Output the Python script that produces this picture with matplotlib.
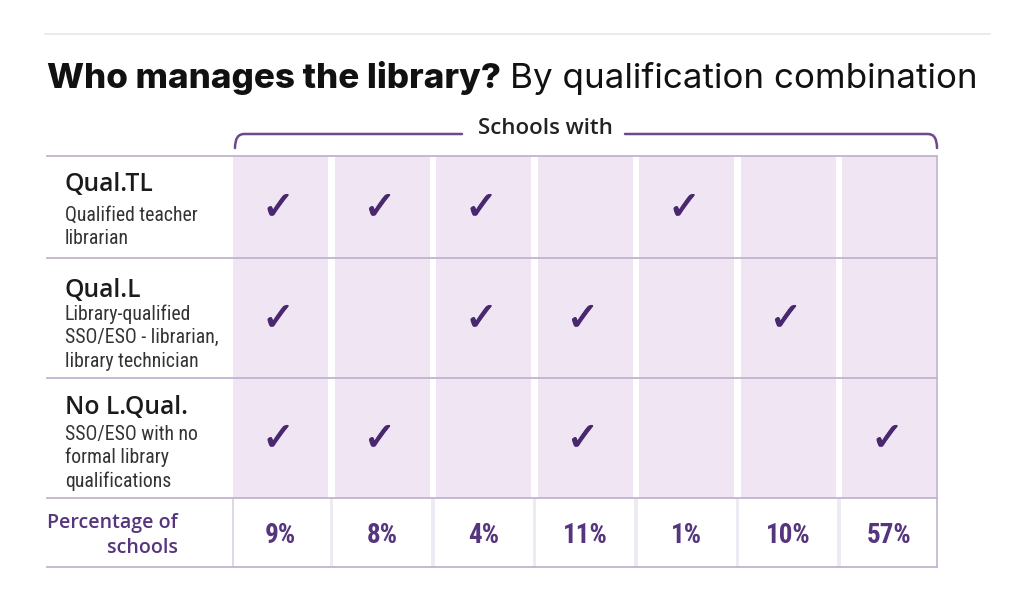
import matplotlib
matplotlib.use("Agg")
import matplotlib.pyplot as plt
import matplotlib.font_manager as fm
import matplotlib.patheffects as pe
from matplotlib.patches import Rectangle, PathPatch
from matplotlib.path import Path

# ---------------- data ----------------
title_bold = "Who manages the library?"
title_rest = "By qualification combination"
header = "Schools with"
row_codes = ["Qual.TL", "Qual.L", "No L.Qual."]
row_descriptions = [
    "Qualified teacher\nlibrarian",
    "Library-qualified\nSSO/ESO - librarian,\nlibrary technician",
    "SSO/ESO with no\nformal library\nqualifications",
]
qual_tl = [1, 1, 1, 0, 1, 0, 0]
qual_l = [1, 0, 1, 1, 0, 1, 0]
no_lqual = [1, 1, 0, 1, 0, 0, 1]
footer_label = ["Percentage of", "schools"]
percentages = [9, 8, 4, 11, 1, 10, 57]

# ---------------- fonts ----------------
names = {f.name for f in fm.fontManager.ttflist}
def pick(*cands):
    for c in cands:
        if c in names:
            return c
    return "DejaVu Sans"

TITLE_FONT = pick("Inter", "Roboto", "Liberation Sans")
TABLE_FONT = pick("Open Sans", "Noto Sans", "Lato")
COND_FONT = pick("Roboto Condensed", "Open Sans Condensed", "Liberation Sans Narrow",
                 "Lato", "Open Sans")

# ---------------- layout ----------------
W, H = 1024, 597
fig = plt.figure(figsize=(W / 100, H / 100), dpi=100)
ax = fig.add_axes([0, 0, 1, 1])
ax.set_xlim(0, W)
ax.set_ylim(H, 0)
ax.axis("off")

PURPLE_DARK = "#4a2870"
PURPLE_TEXT = "#55357d"
CELL = "#f0e6f3"
LINE = "#c2b4d0"

label_left = 47
grid_left, grid_right = 233, 937
gap = 6.5
ncol = len(percentages)
pitch = (grid_right - grid_left + gap) / ncol
cell_w = pitch - gap
row_edges = [156, 258, 378, 498, 567]

# top rule
ax.plot([45, 990], [34, 34], color="#e8e8e8", lw=1.2)

# title
t1 = ax.text(47, 88, title_bold, fontsize=25.2, fontweight="heavy", family=TITLE_FONT,
             va="baseline", ha="left", color="#111111")
fig.canvas.draw()
bb = t1.get_window_extent()
ax.text(bb.x1 + 9, 88, title_rest, fontsize=25.2, family=TITLE_FONT,
        va="baseline", ha="left", color="#111111")

# header bracket
hx = 545
ax.text(hx, 134.5, header, fontsize=16, fontweight="semibold", family=TABLE_FONT,
        ha="center", va="baseline", color="#222222")
r = 9
left_path = Path([(grid_left + 2, 148), (grid_left + 2, 134), (grid_left + 2 + r, 134), (462, 134)],
                 [Path.MOVETO, Path.CURVE3, Path.CURVE3, Path.LINETO])
right_path = Path([(625, 134), (grid_right - r, 134), (grid_right, 134), (grid_right, 148)],
                  [Path.MOVETO, Path.LINETO, Path.CURVE3, Path.CURVE3])
for p in (left_path, right_path):
    ax.add_patch(PathPatch(p, fc="none", ec="#6a4a8c", lw=1.8, capstyle="round"))

# cells and checks
matrix = [qual_tl, qual_l, no_lqual]
for ri, row in enumerate(matrix):
    y0, y1 = row_edges[ri], row_edges[ri + 1]
    for ci, v in enumerate(row):
        x0 = grid_left + ci * pitch
        ax.add_patch(Rectangle((x0, y0), cell_w, y1 - y0, fc=CELL, ec="none", zorder=1))
        if v:
            ax.text(x0 + cell_w / 2 - 2, (y0 + y1) / 2 + 1, "\u2713", fontsize=28,
                    fontweight="bold", family="DejaVu Sans", ha="center", va="center",
                    color=PURPLE_DARK, zorder=3,
                    path_effects=[pe.withStroke(linewidth=0.8, foreground=PURPLE_DARK)])

# bottom row separators
yb0, yb1 = row_edges[3], row_edges[4]
for ci in range(1, ncol):
    xg = grid_left + ci * pitch - gap
    ax.add_patch(Rectangle((xg + 1.5, yb0), gap - 3, yb1 - yb0, fc="#eeeaf3", ec="none", zorder=1))
ax.plot([grid_left, grid_left], [yb0, yb1], color="#d8d0e0", lw=1.2, zorder=2)

# percentages
for ci, pval in enumerate(percentages):
    x0 = grid_left + ci * pitch
    ax.text(x0 + cell_w / 2, 543, f"{pval}%", fontsize=19.5, fontweight="bold",
            family=COND_FONT, ha="center", va="baseline", color=PURPLE_TEXT, zorder=3)

# footer label
for li, ln in enumerate(footer_label):
    ax.text(178, 528 + li * 25, ln, fontsize=14, fontweight="semibold", family=TABLE_FONT,
            ha="right", va="baseline", color=PURPLE_TEXT)

# row labels
code_baselines = [191, 297, 414]
desc_baselines = [221, 320, 440]
for ri in range(len(row_codes)):
    ax.text(65, code_baselines[ri], row_codes[ri], fontsize=17.7, fontweight="semibold",
            family=TABLE_FONT, ha="left", va="baseline", color="#1b1b1b")
    lines = row_descriptions[ri].split("\n")
    for li, ln in enumerate(lines):
        ax.text(65, desc_baselines[ri] + li * 23.3, ln, fontsize=14.2, family=COND_FONT,
                ha="left", va="baseline", color="#333333")

# horizontal rules
for ye in row_edges:
    ax.plot([label_left, grid_right], [ye, ye], color=LINE, lw=1.3, zorder=2)
# right border
ax.plot([grid_right, grid_right], [row_edges[0], row_edges[-1]], color=LINE, lw=1.2, zorder=2)

fig.savefig("out.png", dpi=100)
